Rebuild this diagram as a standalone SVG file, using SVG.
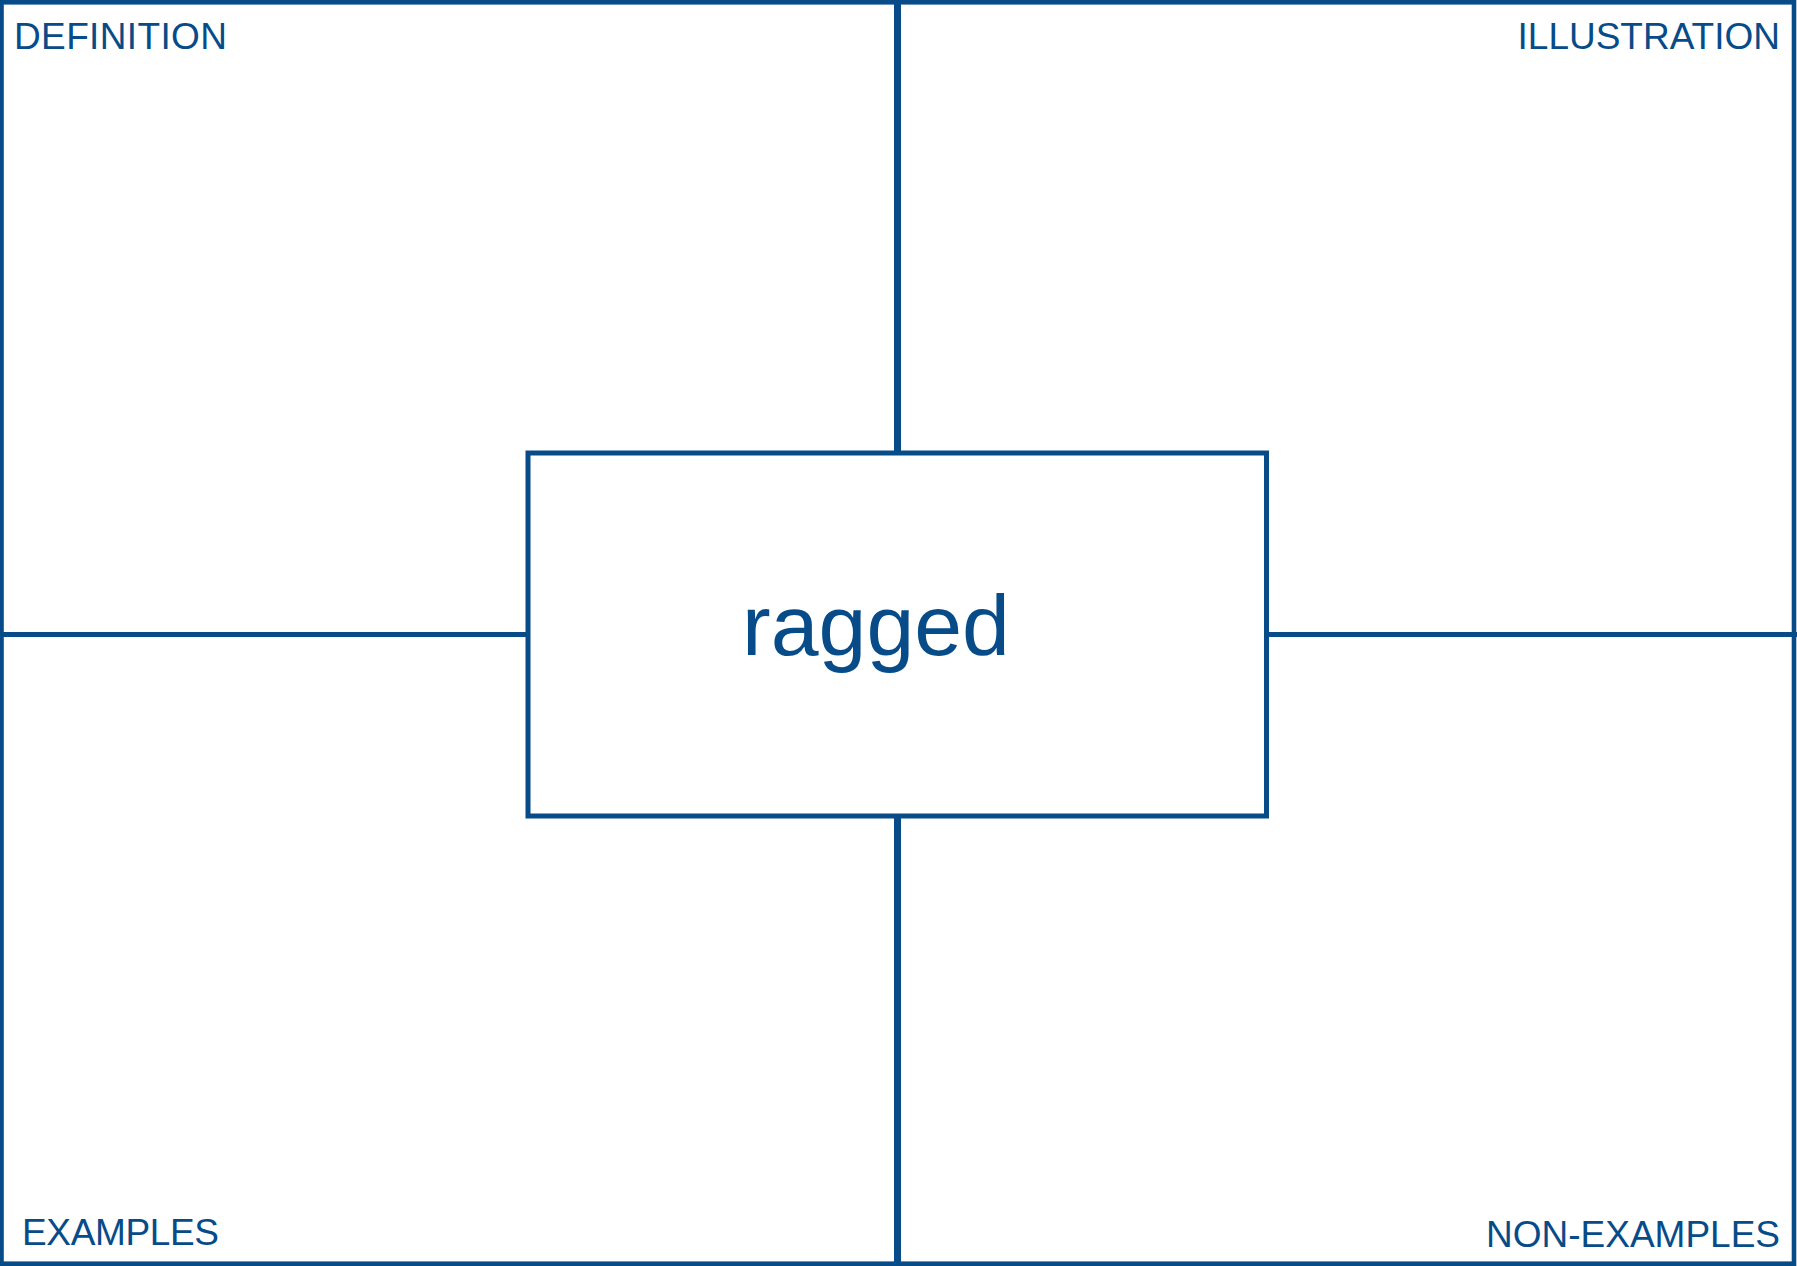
<svg xmlns="http://www.w3.org/2000/svg" width="1797" height="1266" viewBox="0 0 1797 1266">
<style>
.frame{fill:none;stroke:#074c88;stroke-width:4.6}
.box{fill:#ffffff;stroke:#074c88;stroke-width:5}
.vline{stroke:#074c88;stroke-width:7;fill:none}
.hline{stroke:#074c88;stroke-width:5;fill:none}
.lbl{font-family:"Liberation Sans",Arial,sans-serif;font-size:37px;fill:#074c88}
.center{font-family:"Liberation Sans",Arial,sans-serif;font-size:86px;fill:#074c88}
</style>
<rect x="0" y="0" width="1797" height="1266" fill="#ffffff"/>
<g id="frame">
<rect class="frame" x="1.5" y="2.3" width="1792.5" height="1261.4"/>
</g>
<g id="connectors">
<line class="vline" x1="897.5" y1="0" x2="897.5" y2="453"/>
<line class="vline" x1="897.5" y1="816" x2="897.5" y2="1266"/>
<line class="hline" x1="0" y1="634.5" x2="528" y2="634.5"/>
<line class="hline" x1="1266.5" y1="634.5" x2="1797" y2="634.5"/>
</g>
<g id="center-node">
<rect class="box" x="528" y="453" width="738.5" height="363"/>
<text class="center" x="876" y="655" text-anchor="middle">ragged</text>
</g>
<g id="definition">
<text class="lbl" x="14" y="49" textLength="213">DEFINITION</text>
</g>
<g id="illustration">
<text class="lbl" x="1780" y="49" text-anchor="end">ILLUSTRATION</text>
</g>
<g id="examples">
<text class="lbl" x="22" y="1245" textLength="197">EXAMPLES</text>
</g>
<g id="non-examples">
<text class="lbl" x="1780" y="1247" text-anchor="end">NON-EXAMPLES</text>
</g>
</svg>
